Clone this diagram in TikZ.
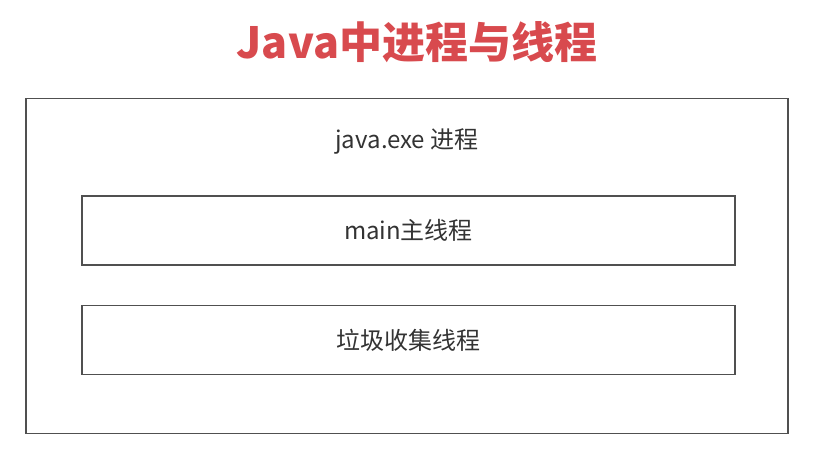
\documentclass[tikz,border=0pt]{standalone}
\usepackage{fontspec}
\setmainfont{Noto Sans CJK SC}
\usetikzlibrary{positioning}
\definecolor{boxColor}{HTML}{505050}
\definecolor{txtColor}{HTML}{333333}
\definecolor{titleColor}{HTML}{D84A4E}
\tikzset{
	thread/.style={draw=boxColor, line width=1.8pt, minimum width=653pt, minimum height=69pt,
		text=txtColor, font=\fontsize{24}{28}\selectfont},
	proc/.style={draw=boxColor, line width=1.8pt, minimum width=762pt, minimum height=335pt}
}
\begin{document}
\begin{tikzpicture}[x=1pt, y=-1pt]
				\useasboundingbox (0,0) rectangle (826,460);
				\node[text=titleColor, font=\fontsize{43}{50}\selectfont\bfseries] (title) at (417, 42) {Java中进程与线程};
				\node[proc] (javaexe) at (407, 266) {};
				\node[text=txtColor, font=\fontsize{24}{28}\selectfont] (javaexeLab) at (407, 141) {java.exe 进程};
				
				\node[thread] (mainThr) at (408.5, 230.5) {main主线程};
				\node[thread] (gcThr) at (408.5, 340) {垃圾收集线程};
			\end{tikzpicture}
\end{document}
